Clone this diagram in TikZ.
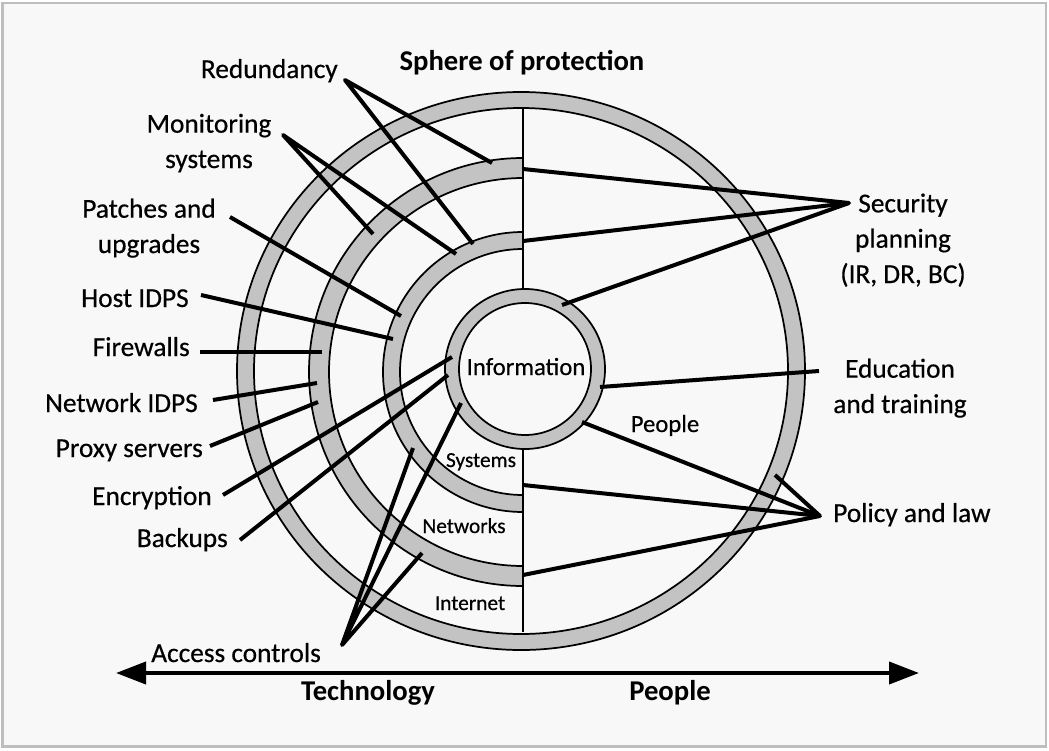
\documentclass[tikz,border=0pt]{standalone}
\usepackage{fontspec}
\setmainfont{Carlito}
\newfontfamily\medfont{Carlito}[FakeBold=0.5]
\usetikzlibrary{arrows.meta}
\definecolor{ringgray}{RGB}{195,195,195}
\definecolor{bggray}{RGB}{248,248,248}
\definecolor{framegray}{RGB}{190,190,190}
\begin{document}
\begin{tikzpicture}[x=0.75pt,y=-0.75pt,
  ring/.style={fill=ringgray, even odd rule},
  ringline/.style={draw=black, line width=1.3pt},
  divline/.style={draw=black, line width=1.2pt},
  leader/.style={draw=black, line width=3pt, line join=round},
  lbl/.style={font=\medfont\fontsize{20.5}{26.5}\selectfont, inner sep=0pt, align=center},
  ttl/.style={font=\fontsize{21.5}{26}\selectfont\bfseries, inner sep=0pt},
  mid/.style={font=\medfont\fontsize{18.5}{22}\selectfont, inner sep=0pt},
  small/.style={font=\medfont\fontsize{16}{20}\selectfont, inner sep=0pt},
  axis/.style={draw=black, line width=3pt, {Triangle[length=22.5pt,width=16.5pt]}-{Triangle[length=22.5pt,width=16.5pt]}}]

\useasboundingbox (0,0) rectangle (1049,750);
\fill[white] (0,0) rectangle (1049,750);
\draw[framegray, line width=2.2pt, fill=bggray] (2.5,3) rectangle (1046,746.5);

% centres
\coordinate (cO) at (521,371);
\coordinate (cR) at (523,372);
\coordinate (cI) at (525,369);

% outer ring (full)
\path[ring] (cO) ellipse[x radius=284, y radius=279] (cO) ellipse[x radius=267, y radius=263];
\draw[ringline] (cO) ellipse[x radius=284, y radius=279] (cO) ellipse[x radius=267, y radius=263];

% half rings (left side only)
\begin{scope}
  \clip (0,0) rectangle (523,750);
  \path[ring] (cR) circle[radius=214] (cR) circle[radius=194];
  \draw[ringline] (cR) circle[radius=214] (cR) circle[radius=194];
  \path[ring] (cR) circle[radius=140] (cR) circle[radius=123];
  \draw[ringline] (cR) circle[radius=140] (cR) circle[radius=123];
\end{scope}

% inner ring (full)
\path[ring] (cI) circle[radius=80] (cI) circle[radius=66];
\draw[ringline] (cI) circle[radius=80] (cI) circle[radius=66];

% vertical divider
\draw[divline] (523,108) -- (523,289);
\draw[divline] (523,449) -- (523,632);

% inner labels
\node[mid, anchor=base] (info) at (526,375) {Information};
\node[mid, anchor=base] (peoplein) at (665,432) {People};
\node[small, anchor=base] (sys) at (481,467) {Systems};
\node[small, anchor=base] (net) at (464,533) {Networks};
\node[small, anchor=base] (inet) at (470,610) {Internet};

% title
\node[ttl, anchor=base] (title) at (522,70) {Sphere of protection};

% left labels (multi-line nodes: base = last line)
\node[lbl, anchor=base east] (red) at (338,78) {Redundancy};
\node[lbl, anchor=base] (mon) at (209,168) {Monitoring\\systems};
\node[lbl, anchor=base] (pat) at (149,253) {Patches and\\upgrades};
\node[lbl, anchor=base east] (host) at (189,307) {Host IDPS};
\node[lbl, anchor=base east] (fire) at (190,356) {Firewalls};
\node[lbl, anchor=base east] (nidps) at (198,412) {Network IDPS};
\node[lbl, anchor=base east] (proxy) at (203,457) {Proxy servers};
\node[lbl, anchor=base east] (enc) at (212,505) {Encryption};
\node[lbl, anchor=base east] (back) at (228,547) {Backups};
\node[lbl, anchor=base west] (acc) at (151,662) {Access controls};

% right labels
\node[lbl, anchor=base] (sec) at (903,283) {Security\\planning\\(IR, DR, BC)};
\node[lbl, anchor=base] (edu) at (900,413) {Education\\and training};
\node[lbl, anchor=base west] (pol) at (833,522) {Policy and law};

% bottom axis
\node[ttl, anchor=base] (tech) at (368,700) {Technology};
\node[ttl, anchor=base] (peop) at (670,700) {People};
\coordinate (axL) at (116,673);
\coordinate (axR) at (919,673);
\draw[axis] (axL) -- (axR);

% leader coordinates
\coordinate (redA) at (345,80);
\coordinate (redE1) at (492,163);
\coordinate (redE2) at (473,244);
\coordinate (monA) at (283,135);
\coordinate (monE1) at (373,234);
\coordinate (monE2) at (456,254);
\coordinate (patA) at (230,217);
\coordinate (patE) at (401,316);
\coordinate (hostA) at (201,295);
\coordinate (hostE) at (393,339);
\coordinate (fireA) at (200,352);
\coordinate (fireE) at (322,352);
\coordinate (nidA) at (213,400);
\coordinate (nidE) at (317,383);
\coordinate (proA) at (210,446);
\coordinate (proE) at (318,402);
\coordinate (encA) at (223,495);
\coordinate (encE) at (452,357);
\coordinate (bakA) at (240,540);
\coordinate (bakE) at (448,375);
\coordinate (accA) at (342,645);
\coordinate (accE1) at (413,448);
\coordinate (accE2) at (461,403);
\coordinate (accE3) at (422,553);
\coordinate (secA) at (849,203);
\coordinate (secE1) at (523,169);
\coordinate (secE2) at (523,241);
\coordinate (secE3) at (562,305);
\coordinate (eduA) at (819,371);
\coordinate (eduE) at (600,387);
\coordinate (polA) at (820,516);
\coordinate (polE1) at (582,422);
\coordinate (polE2) at (523,485);
\coordinate (polE3) at (523,575);
\coordinate (polE4) at (775,475);

% leaders
\draw[leader] (redE1) -- (redA) -- (redE2);
\draw[leader] (monE1) -- (monA) -- (monE2);
\draw[leader] (patA) -- (patE);
\draw[leader] (hostA) -- (hostE);
\draw[leader] (fireA) -- (fireE);
\draw[leader] (nidA) -- (nidE);
\draw[leader] (proA) -- (proE);
\draw[leader] (encA) -- (encE);
\draw[leader] (bakA) -- (bakE);
\draw[leader] (accE1) -- (accA) -- (accE2);
\draw[leader] (accA) -- (accE3);
\draw[leader] (secE1) -- (secA) -- (secE2);
\draw[leader] (secA) -- (secE3);
\draw[leader] (eduA) -- (eduE);
\draw[leader] (polE1) -- (polA) -- (polE2);
\draw[leader] (polA) -- (polE3);
\draw[leader] (polA) -- (polE4);
\end{tikzpicture}
\end{document}
